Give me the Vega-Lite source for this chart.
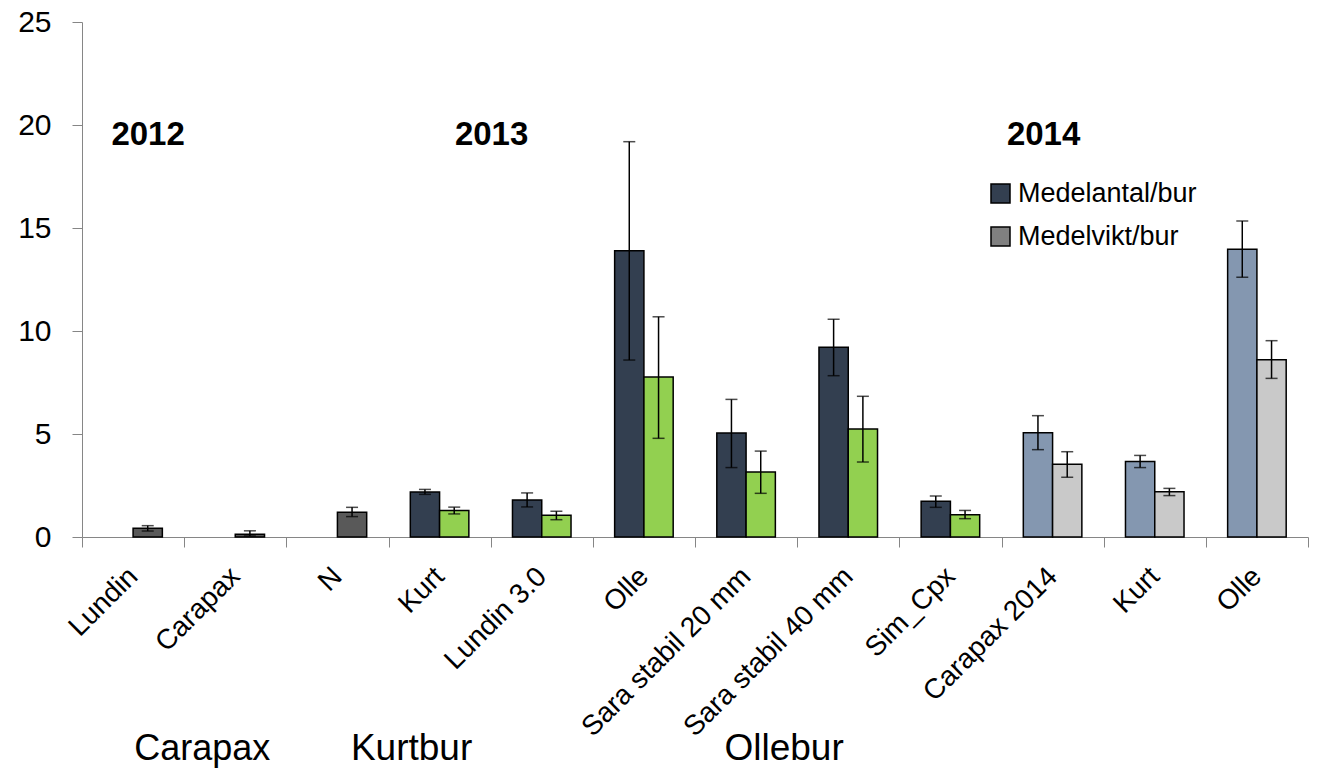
{
  "$schema": "https://vega.github.io/schema/vega-lite/v6.json",
  "width": 1226,
  "height": 515,
  "autosize": {"type": "none"},
  "padding": {"left": 82, "top": 22, "right": 11, "bottom": 232},
  "background": "white",
  "config": {"view": {"stroke": null}, "font": "Liberation Sans"},
  "datasets": {
    "bars": [
      {"cat": "Lundin", "series": "vikt", "grupp": "2012", "value": 0.42, "lo": 0.29, "hi": 0.55},
      {"cat": "Carapax", "series": "vikt", "grupp": "2012", "value": 0.13, "lo": 0.05, "hi": 0.3},
      {"cat": "N", "series": "vikt", "grupp": "2012", "value": 1.2, "lo": 0.99, "hi": 1.44},
      {"cat": "Kurt", "series": "antal", "grupp": "Medelantal/bur", "value": 2.18, "lo": 2.07, "hi": 2.31},
      {"cat": "Kurt", "series": "vikt", "grupp": "2013 vikt", "value": 1.29, "lo": 1.12, "hi": 1.45},
      {"cat": "Lundin 3.0", "series": "antal", "grupp": "Medelantal/bur", "value": 1.8, "lo": 1.46, "hi": 2.14},
      {"cat": "Lundin 3.0", "series": "vikt", "grupp": "2013 vikt", "value": 1.05, "lo": 0.84, "hi": 1.25},
      {"cat": "Olle", "series": "antal", "grupp": "Medelantal/bur", "value": 13.9, "lo": 8.59, "hi": 19.19},
      {"cat": "Olle", "series": "vikt", "grupp": "2013 vikt", "value": 7.77, "lo": 4.79, "hi": 10.69},
      {"cat": "Sara stabil 20 mm", "series": "antal", "grupp": "Medelantal/bur", "value": 5.05, "lo": 3.37, "hi": 6.68},
      {"cat": "Sara stabil 20 mm", "series": "vikt", "grupp": "2013 vikt", "value": 3.16, "lo": 2.12, "hi": 4.17},
      {"cat": "Sara stabil 40 mm", "series": "antal", "grupp": "Medelantal/bur", "value": 9.21, "lo": 7.83, "hi": 10.57},
      {"cat": "Sara stabil 40 mm", "series": "vikt", "grupp": "2013 vikt", "value": 5.24, "lo": 3.64, "hi": 6.83},
      {"cat": "Sim_Cpx", "series": "antal", "grupp": "Medelantal/bur", "value": 1.73, "lo": 1.44, "hi": 1.99},
      {"cat": "Sim_Cpx", "series": "vikt", "grupp": "2013 vikt", "value": 1.08, "lo": 0.89, "hi": 1.29},
      {"cat": "Carapax 2014", "series": "antal", "grupp": "2014 antal", "value": 5.06, "lo": 4.24, "hi": 5.89},
      {"cat": "Carapax 2014", "series": "vikt", "grupp": "2014 vikt", "value": 3.53, "lo": 2.9, "hi": 4.14},
      {"cat": "Kurt 2014", "series": "antal", "grupp": "2014 antal", "value": 3.66, "lo": 3.37, "hi": 3.96},
      {"cat": "Kurt 2014", "series": "vikt", "grupp": "2014 vikt", "value": 2.2, "lo": 2.01, "hi": 2.36},
      {"cat": "Olle 2014", "series": "antal", "grupp": "2014 antal", "value": 13.97, "lo": 12.61, "hi": 15.34},
      {"cat": "Olle 2014", "series": "vikt", "grupp": "2014 vikt", "value": 8.61, "lo": 7.7, "hi": 9.53}
    ],
    "notes": [
      {"label": "2012", "cat": "Lundin", "y": 19.03},
      {"label": "2013", "cat": "Kurt", "y": 19.03},
      {"label": "2014", "cat": "Carapax 2014", "y": 19.03},
      {"label": "Carapax", "cat": "Carapax", "y": -10.83},
      {"label": "Kurtbur", "cat": "Kurt", "y": -10.83},
      {"label": "Ollebur", "cat": "Sara stabil 20 mm", "y": -10.83}
    ]
  },
  "layer": [
    {
      "data": {"name": "bars"},
      "mark": {"type": "bar", "stroke": "black", "strokeWidth": 1.5},
      "encoding": {
        "x": {
          "field": "cat", "type": "nominal", "title": null,
          "scale": {
            "domain": ["Lundin", "Carapax", "N", "Kurt", "Lundin 3.0", "Olle", "Sara stabil 20 mm", "Sara stabil 40 mm", "Sim_Cpx", "Carapax 2014", "Kurt 2014", "Olle 2014"],
            "paddingInner": 0, "paddingOuter": 0
          },
          "axis": {
            "labelExpr": "datum.value == 'Kurt 2014' ? 'Kurt' : (datum.value == 'Olle 2014' ? 'Olle' : datum.value)",
            "labelAngle": -45, "labelAlign": "right", "labelBaseline": "middle",
            "labelFontSize": 28, "labelColor": "black", "labelPadding": 25, "labelLimit": 500,
            "labelOverlap": false,
            "tickBand": "extent", "tickSize": 10, "tickColor": "#868686", "domainColor": "#868686",
            "tickWidth": 1, "domainWidth": 1
          }
        },
        "xOffset": {"field": "series", "type": "nominal", "scale": {"domain": ["antal", "vikt"], "paddingInner": 0, "paddingOuter": 0.745}},
        "y": {
          "field": "value", "type": "quantitative", "title": null,
          "scale": {"domain": [0, 25], "nice": false},
          "axis": {
            "values": [0, 5, 10, 15, 20, 25], "grid": false,
            "tickSize": 10, "tickColor": "#868686", "domainColor": "#868686",
            "labelFontSize": 30, "labelColor": "black", "labelPadding": 21, "labelBaseline": "middle"
          }
        },
        "fill": {
          "field": "grupp", "type": "nominal",
          "scale": {
            "domain": ["Medelantal/bur", "Medelvikt/bur", "2012", "2013 vikt", "2014 antal", "2014 vikt"],
            "range": ["#333F50", "#808080", "#595959", "#92D050", "#8497B0", "#C9C9C9"]
          },
          "legend": {
            "values": ["Medelantal/bur", "Medelvikt/bur"],
            "title": null, "orient": "none", "legendX": 905, "legendY": 158,
            "symbolType": "square", "symbolSize": 361, "symbolStrokeColor": "black", "symbolStrokeWidth": 1.5,
            "labelFontSize": 27, "labelColor": "black", "labelOffset": 4, "rowPadding": 15, "labelLimit": 500
          }
        }
      }
    },
    {
      "data": {"name": "bars"},
      "mark": {"type": "rule", "color": "black", "strokeWidth": 1.5},
      "encoding": {
        "x": {"field": "cat", "type": "nominal"},
        "xOffset": {"field": "series", "type": "nominal"},
        "y": {"field": "lo", "type": "quantitative", "title": null},
        "y2": {"field": "hi"}
      }
    },
    {
      "data": {"name": "bars"},
      "mark": {"type": "tick", "color": "black", "thickness": 1.5, "size": 12},
      "encoding": {
        "x": {"field": "cat", "type": "nominal"},
        "xOffset": {"field": "series", "type": "nominal"},
        "y": {"field": "lo", "type": "quantitative", "title": null}
      }
    },
    {
      "data": {"name": "bars"},
      "mark": {"type": "tick", "color": "black", "thickness": 1.5, "size": 12},
      "encoding": {
        "x": {"field": "cat", "type": "nominal"},
        "xOffset": {"field": "series", "type": "nominal"},
        "y": {"field": "hi", "type": "quantitative", "title": null}
      }
    },
    {
      "data": {"name": "notes"},
      "transform": [{"filter": "datum.label == '2012'"}],
      "mark": {"type": "text", "fontSize": 33, "fontWeight": "bold", "color": "black", "baseline": "alphabetic", "dx": 15},
      "encoding": {"x": {"field": "cat", "type": "nominal"}, "y": {"field": "y", "type": "quantitative", "title": null}, "text": {"field": "label"}}
    },
    {
      "data": {"name": "notes"},
      "transform": [{"filter": "datum.label == '2013'"}],
      "mark": {"type": "text", "fontSize": 33, "fontWeight": "bold", "color": "black", "baseline": "alphabetic", "dx": 52},
      "encoding": {"x": {"field": "cat", "type": "nominal"}, "y": {"field": "y", "type": "quantitative", "title": null}, "text": {"field": "label"}}
    },
    {
      "data": {"name": "notes"},
      "transform": [{"filter": "datum.label == '2014'"}],
      "mark": {"type": "text", "fontSize": 33, "fontWeight": "bold", "color": "black", "baseline": "alphabetic", "dx": -9},
      "encoding": {"x": {"field": "cat", "type": "nominal"}, "y": {"field": "y", "type": "quantitative", "title": null}, "text": {"field": "label"}}
    },
    {
      "data": {"name": "notes"},
      "transform": [{"filter": "datum.label == 'Carapax'"}],
      "mark": {"type": "text", "fontSize": 36, "color": "black", "baseline": "alphabetic", "dx": -33},
      "encoding": {"x": {"field": "cat", "type": "nominal"}, "y": {"field": "y", "type": "quantitative", "title": null}, "text": {"field": "label"}}
    },
    {
      "data": {"name": "notes"},
      "transform": [{"filter": "datum.label == 'Kurtbur'"}],
      "mark": {"type": "text", "fontSize": 37, "color": "black", "baseline": "alphabetic", "dx": -28},
      "encoding": {"x": {"field": "cat", "type": "nominal"}, "y": {"field": "y", "type": "quantitative", "title": null}, "text": {"field": "label"}}
    },
    {
      "data": {"name": "notes"},
      "transform": [{"filter": "datum.label == 'Ollebur'"}],
      "mark": {"type": "text", "fontSize": 37, "color": "black", "baseline": "alphabetic", "dx": 38},
      "encoding": {"x": {"field": "cat", "type": "nominal"}, "y": {"field": "y", "type": "quantitative", "title": null}, "text": {"field": "label"}}
    }
  ]
}
